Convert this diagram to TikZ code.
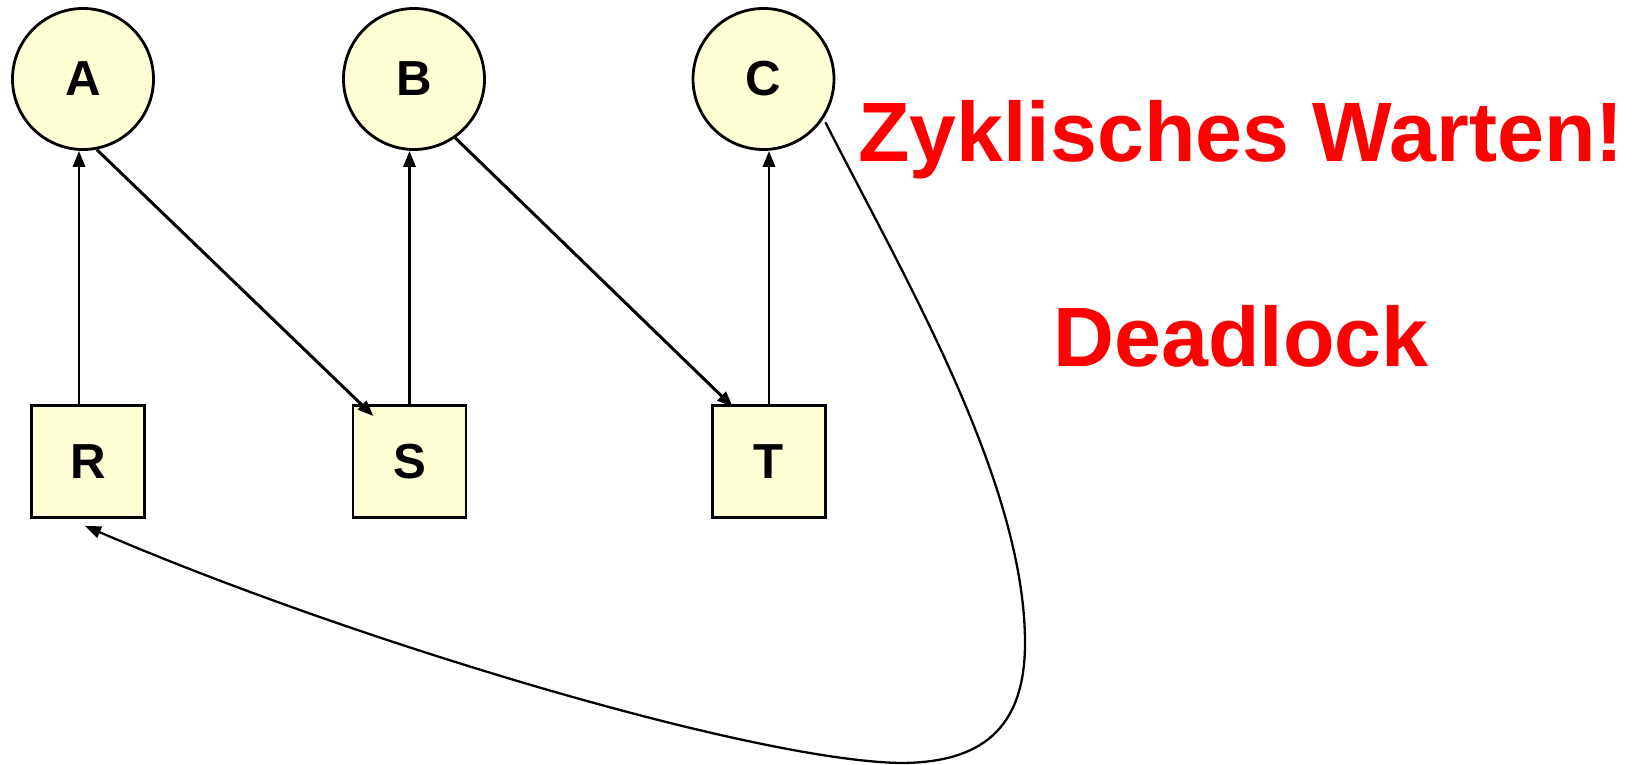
\documentclass[tikz,border=0pt]{standalone}
\usepackage{fontspec}
\setmainfont{Liberation Sans}
\usetikzlibrary{arrows.meta,calc}
\definecolor{nodefill}{RGB}{255,255,213}
\begin{document}
\begin{tikzpicture}[x=0.1mm,y=-0.1mm,
  res/.style={draw, circle, line width=0.8pt, fill=nodefill, minimum size=14.1mm, inner sep=0pt, font=\fontsize{14}{16}\selectfont\bfseries},
  proc/.style={draw, rectangle, line width=0.8pt, fill=nodefill, minimum width=11.3mm, minimum height=11.2mm, inner sep=0pt, font=\fontsize{14}{16}\selectfont\bfseries},
  arr/.style={-{Triangle[length=1.6mm,width=1.2mm]}, line width=0.85pt},
  warn/.style={text=red, inner sep=0pt, anchor=base, font=\fontsize{24}{28}\selectfont\bfseries}]
\useasboundingbox (0,0) rectangle (1646,765);
\node[res] (A) at (83,79) {A};
\node[res] (B) at (414,79) {B};
\node[res] (C) at (763.5,79) {C};
\node[proc] (R) at (88,461.5) {R};
\node[proc] (S) at (409.5,461.5) {S};
\node[proc] (T) at (769,461.5) {T};
\node[warn] (zyk) at (1241,162) {Zyklisches Warten!};
\node[warn] (dead) at (1241,367) {Deadlock};
\coordinate (r0) at ([xshift=-0.9mm]R.north);
\draw[arr] (r0) -- (r0 |- A.south);
\draw[arr] (S.north) -- (S.north |- B.south);
\draw[arr] (T.north) -- (T.north |- C.south);
\draw[arr] (A.-79) -- ($(S.north)+(-36,12)$);
\draw[arr] (B.-55) -- ($(T.north)+(-36,3)$);
\draw[arr, line width=0.65pt] ([shift={(3,2)}]C.-35) .. controls (900,270) and (1025,480) .. (1025,643)
  .. controls (1025,730) and (980,763) .. (900,763)
  .. controls (750,760) and (350,640) .. ($(R.south)+(-3,7)$);
\end{tikzpicture}
\end{document}
